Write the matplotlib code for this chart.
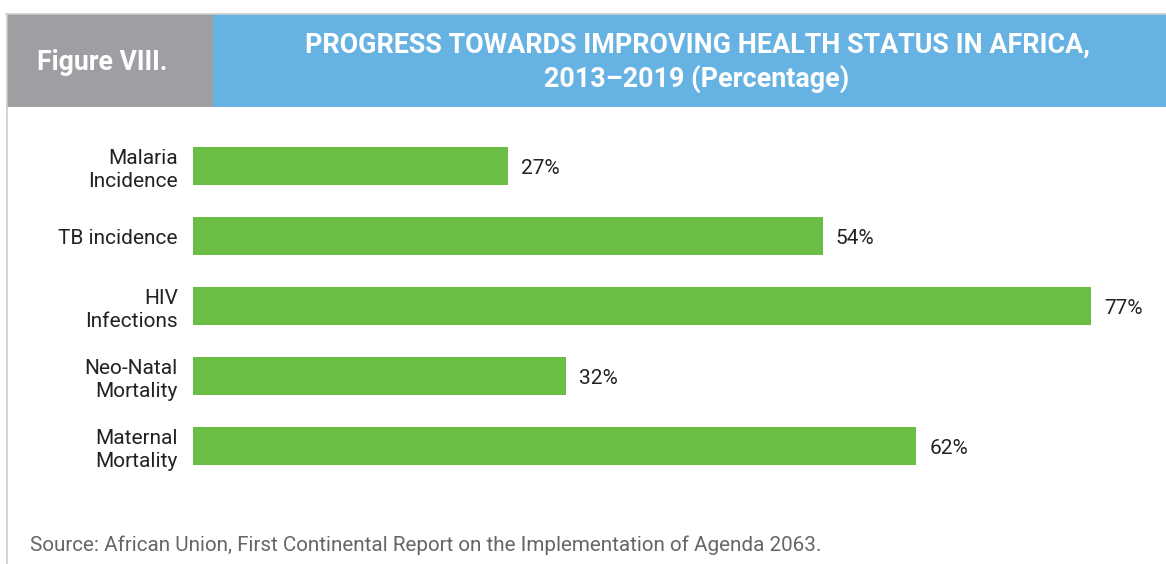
import matplotlib.pyplot as plt
from matplotlib.patches import Rectangle
from matplotlib.lines import Line2D

plt.rcParams['font.family'] = ['Roboto', 'DejaVu Sans']

# Data
categories = ['Malaria\nIncidence', 'TB incidence', 'HIV\nInfections',
              'Neo-Natal\nMortality', 'Maternal\nMortality']
values = [27, 54, 77, 32, 62]

W, H = 1166, 564
green = '#6abd45'
blue = '#66b2e2'
grey = '#9e9fa3'


def fx(x):
    return x / W


def fy(y):
    return 1 - y / H


fig = plt.figure(figsize=(W / 100, H / 100), dpi=100)

# Header boxes
fig.add_artist(Rectangle((fx(7), fy(107)), fx(213) - fx(7), fy(14) - fy(107),
                         transform=fig.transFigure, color=grey, lw=0))
fig.add_artist(Rectangle((fx(213), fy(107)), fx(W) - fx(213), fy(14) - fy(107),
                         transform=fig.transFigure, color=blue, lw=0))
fig.add_artist(Line2D([fx(6), fx(W)], [fy(13.5), fy(13.5)],
                      transform=fig.transFigure, color='#cccccc', lw=1.2))
fig.add_artist(Line2D([fx(6.5), fx(6.5)], [fy(13.5), 0],
                      transform=fig.transFigure, color='#cccccc', lw=1.2))

fig.text(fx(102), fy(62.5), 'Figure VIII.', color='white', fontsize=19.2,
         fontweight='bold', ha='center', va='center')
fig.text(fx(697), fy(62), 'PROGRESS TOWARDS IMPROVING HEALTH STATUS IN AFRICA,\n2013\u20132019 (Percentage)',
         color='white', fontsize=19.4, fontweight='bold', ha='center', va='center',
         linespacing=1.27)

# Bar chart
px_per_pct = 315 / 27
x0 = 193
xmax = 80
left = fx(x0)
width = xmax * px_per_pct / W
top_px, bot_px = 131, 481
ax = fig.add_axes([left, fy(bot_px), width, (bot_px - top_px) / H])
y = list(range(len(categories)))
ax.barh(y, values, height=38 / 70, color=green)
ax.set_xlim(0, xmax)
ax.set_ylim(len(categories) - 0.5, -0.5)
ax.set_yticks(y)
ax.set_yticklabels(categories, fontsize=15, color='#222222', linespacing=1.25)
ax.tick_params(axis='y', length=0, pad=11)
ax.set_xticks([])
for s in ax.spines.values():
    s.set_visible(False)
for yi, v in zip(y, values):
    ax.text(v + 1.1, yi + 0.04, f'{v}%', va='center', ha='left', fontsize=15, color='#222222')

fig.text(fx(30), fy(545), 'Source: African Union, First Continental Report on the Implementation of Agenda 2063.',
         fontsize=14.9, color='#666666', ha='left', va='center')

fig.savefig('out.png', dpi=100)
